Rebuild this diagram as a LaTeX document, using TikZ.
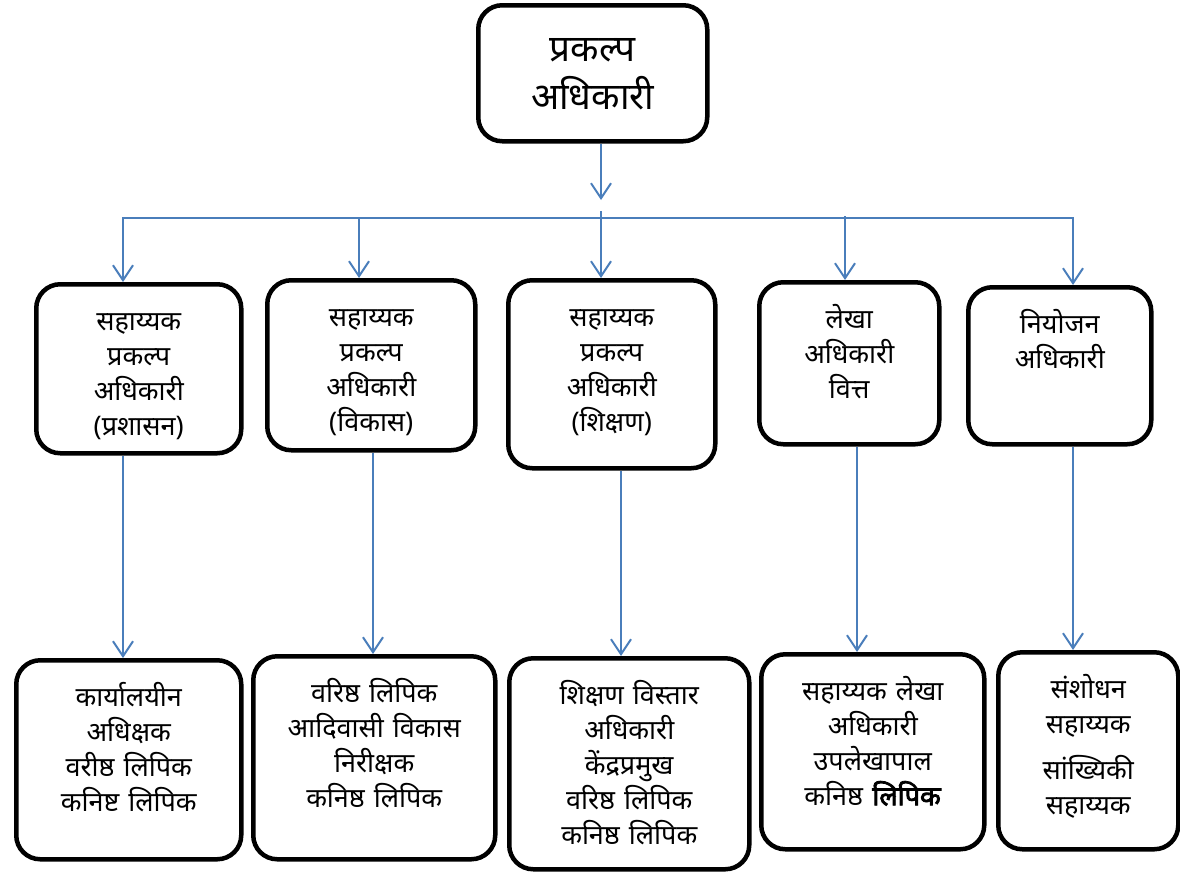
\documentclass[tikz,border=0pt]{standalone}
\usepackage{fontspec}
\setmainfont[Script=Devanagari,BoldFont={Noto Sans},BoldFeatures={FakeBold=3}]{Noto Sans}
\usetikzlibrary{arrows.meta}
\definecolor{linkblue}{RGB}{74,126,187}
\tikzset{
	% rounded black boxes for the posts, first line always at the same depth below the top
	post/.style={draw,line width=4.5pt,rounded corners=24pt,anchor=north west,align=center,inner sep=0pt,
		text height=46pt,font=\fontsize{27}{35}\selectfont},
	% blue reporting lines
	link/.style={draw=linkblue,line width=2pt,-{Straight Barb[length=15pt,width=20pt]}},
	bus/.style={draw=linkblue,line width=2pt,line cap=rect}
}

\begin{document}
\begin{tikzpicture}[x=1pt,y=-1pt]
\useasboundingbox (0,0) rectangle (1180,873);

% project officer (top)
\node(top)[post,minimum width=229pt,text width=220pt,text height=56pt,text depth=80pt,font=\fontsize{37}{48}\selectfont] at (476,3) {प्रकल्प\\अधिकारी};

% second row
\node(m1)[post,minimum width=205pt,text width=200pt,text depth=123pt] at (34,282) {सहाय्यक\\प्रकल्प\\अधिकारी\\(प्रशासन)};
\node(m2)[post,minimum width=208pt,text width=200pt,text depth=124pt] at (265,278) {सहाय्यक\\प्रकल्प\\अधिकारी\\(विकास)};
\node(m3)[post,minimum width=207pt,text width=200pt,text depth=142pt] at (506,278) {सहाय्यक\\प्रकल्प\\अधिकारी\\(शिक्षण)};
\node(m4)[post,minimum width=180pt,text width=175pt,text depth=116pt] at (757,280) {लेखा\\अधिकारी\\वित्त};
\node(m5)[post,minimum width=183pt,text width=175pt,text depth=111pt] at (966,285) {नियोजन\\अधिकारी};

% third row
\node(l1)[post,minimum width=225pt,text width=215pt,text depth=153pt] at (14,658) {कार्यालयीन\\अधिक्षक\\वरीष्ठ लिपिक\\कनिष्ट लिपिक};
\node(l2)[post,minimum width=242pt,text width=235pt,text depth=157pt] at (251,654) {वरिष्ठ लिपिक\\आदिवासी विकास\\निरीक्षक\\कनिष्ठ लिपिक};
\node(l3)[post,minimum width=240pt,text width=235pt,text depth=165pt] at (507,656) {शिक्षण विस्तार\\अधिकारी\\केंद्रप्रमुख\\वरिष्ठ लिपिक\\कनिष्ठ लिपिक};
\node(l4)[post,minimum width=223pt,text width=215pt,text depth=149pt] at (759,652) {सहाय्यक लेखा\\अधिकारी\\उपलेखापाल\\कनिष्ठ \textbf{लिपिक}};
\node(l5)[post,minimum width=180pt,text width=175pt,text depth=151pt] at (996,650) {संशोधन\\सहाय्यक\\[11pt]सांख्यिकी\\सहाय्यक};

% top arrow and the bus
\coordinate (split) at (601,200);
\draw[link] (601,0 |- top.south) -- (split);
\coordinate (busl) at (123,218);
\coordinate (busr) at (1073,218);
\draw[bus] (busl) -- (busr);

% arrows down to the second row
\foreach \i/\x/\y in {1/123/218,2/359/218,3/601/211,4/845/216,5/1073/218}{
	\coordinate (d\i) at (\x,\y);
	\draw[link] (d\i) -- (d\i |- m\i.north);
}

% arrows down to the third row
\foreach \i/\x in {1/123,2/373,3/621,4/857,5/1073}
	\draw[link] (\x,0 |- m\i.south) -- (\x,0 |- l\i.north);

\end{tikzpicture}
\end{document}
